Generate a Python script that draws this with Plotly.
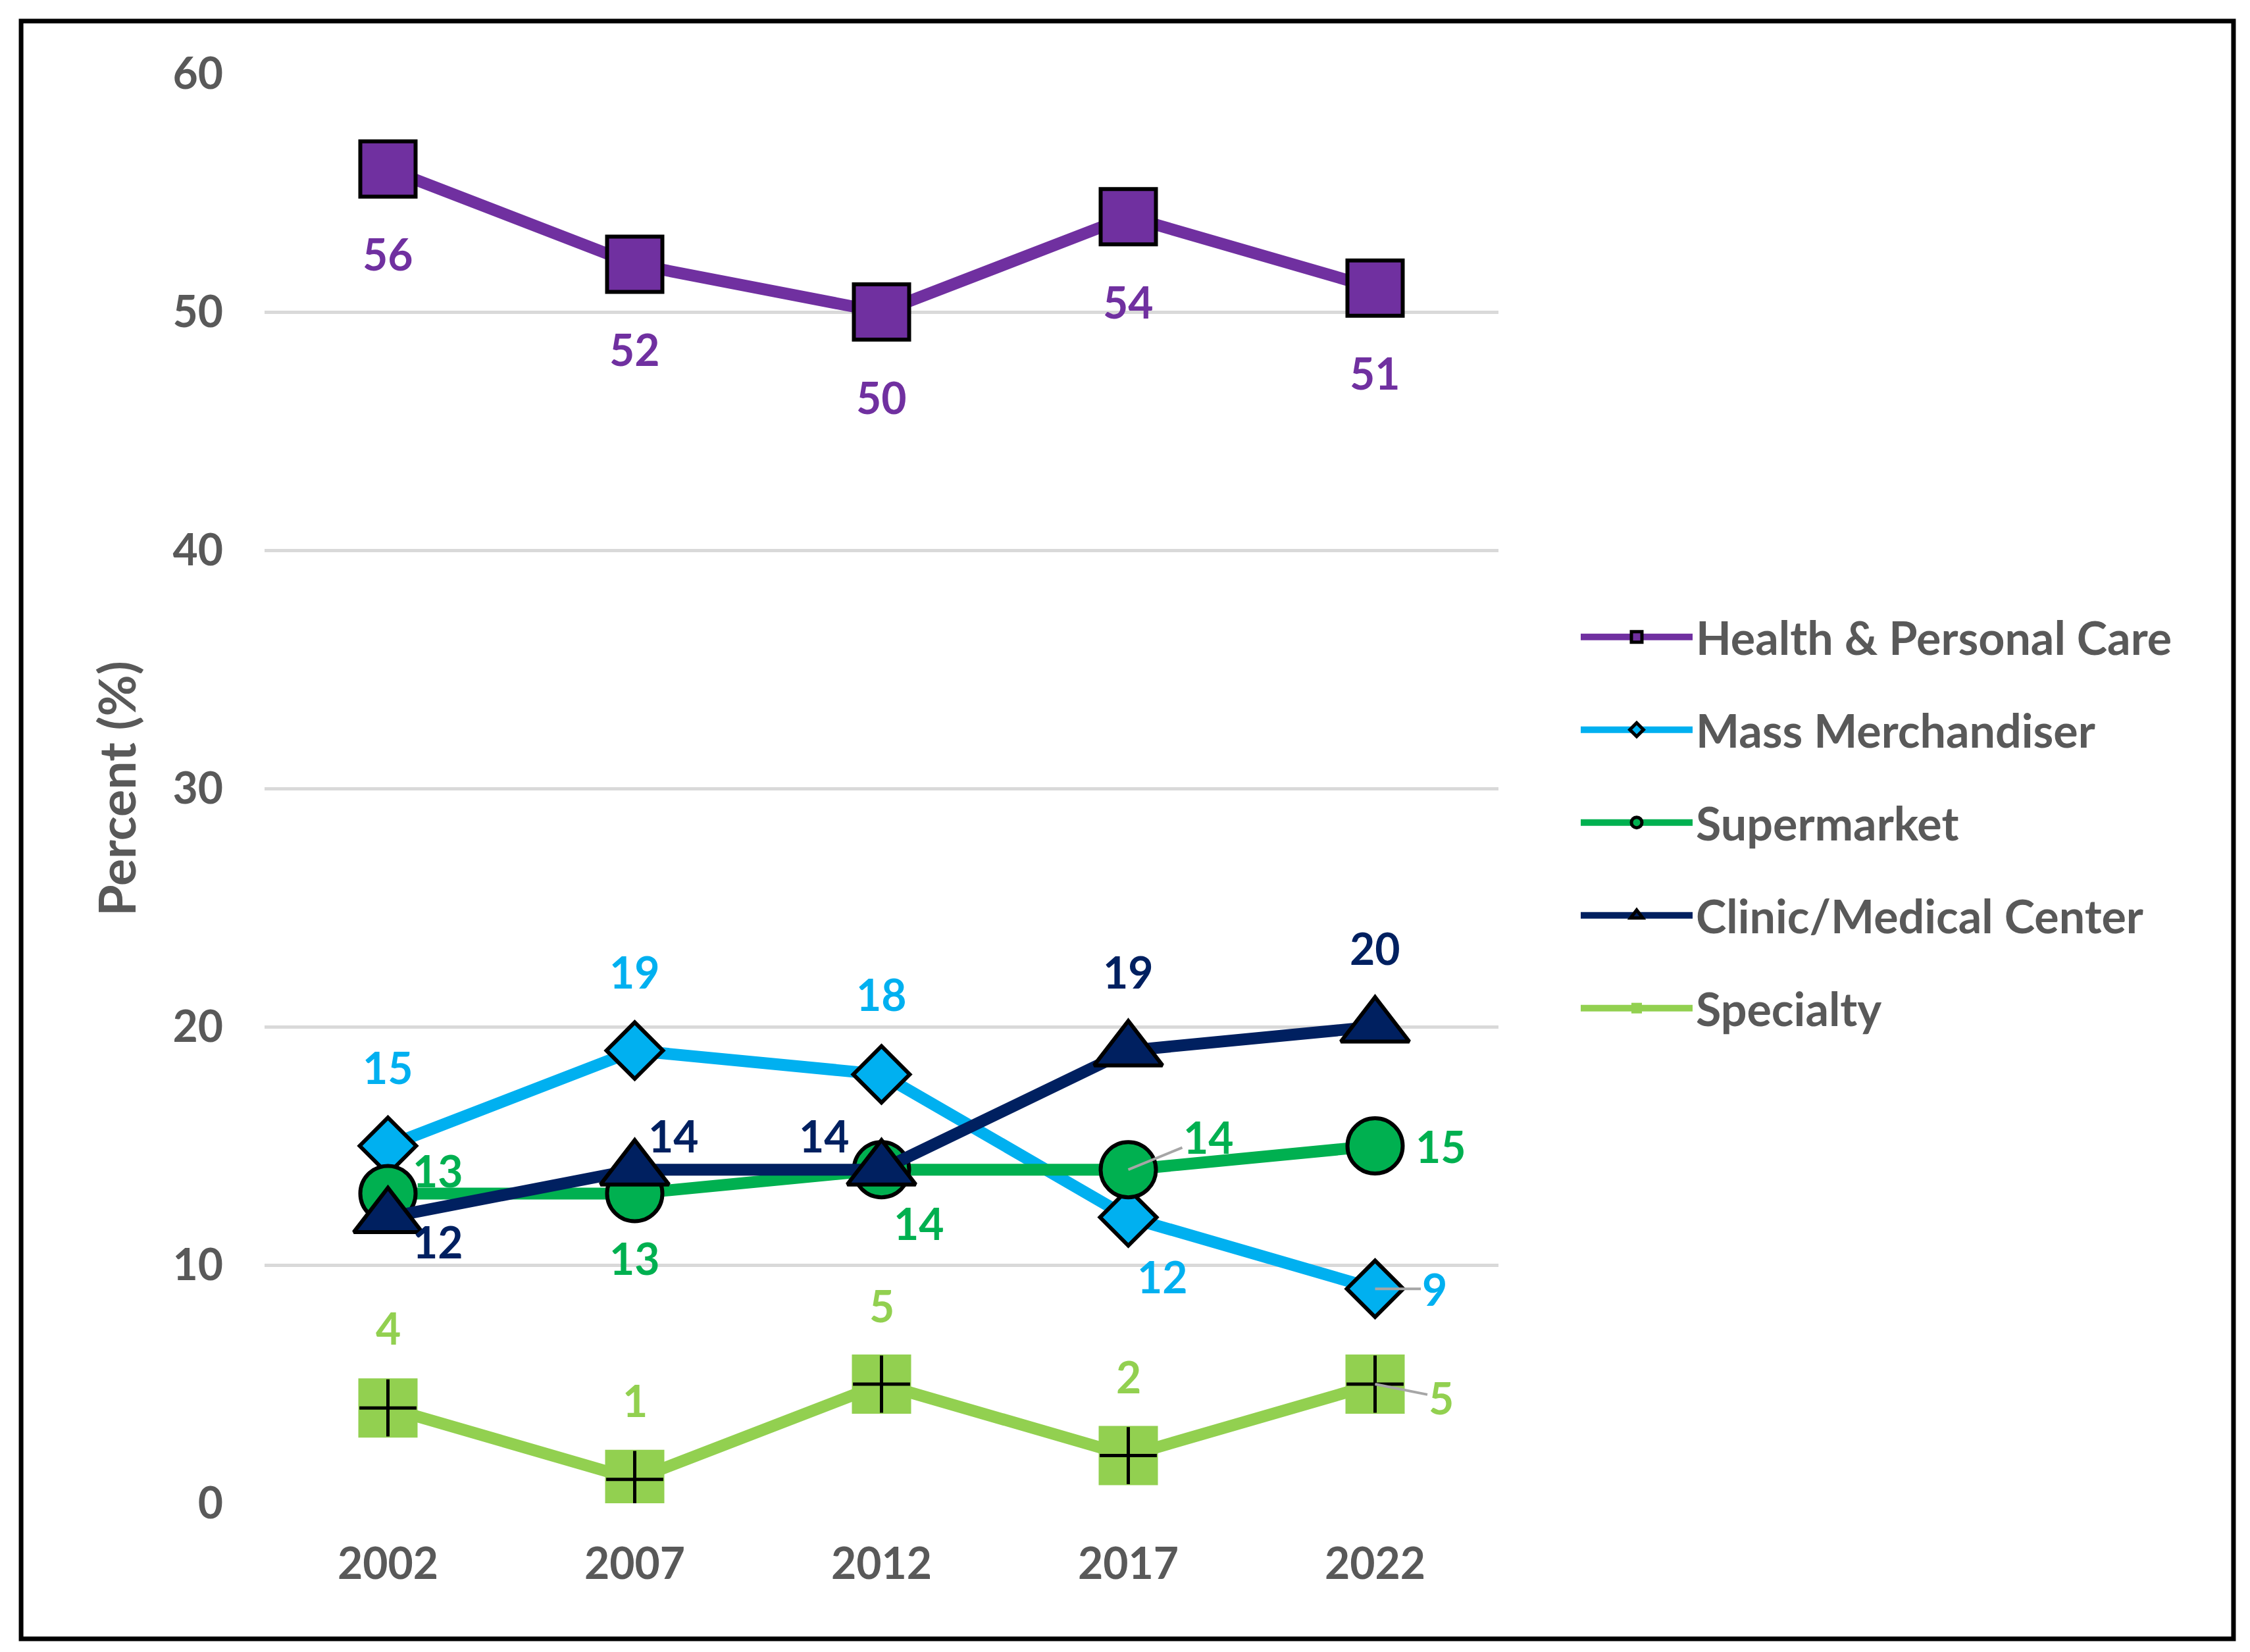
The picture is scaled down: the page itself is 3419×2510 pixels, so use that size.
import plotly.graph_objects as go

years = ["2002", "2007", "2012", "2017", "2022"]
health = [56, 52, 50, 54, 51]
mass = [15, 19, 18, 12, 9]
supermarket = [13, 13, 14, 14, 15]
clinic = [12, 14, 14, 19, 20]
specialty = [4, 1, 5, 2, 5]
y_ticks = [0, 10, 20, 30, 40, 50, 60]

names = ["Health & Personal Care", "Mass Merchandiser", "Supermarket",
         "Clinic/Medical Center", "Specialty"]
colors = ["#7030A0", "#00B0F0", "#00B050", "#002060", "#92D050"]

FONT = "Lato"
GRAY = "#595959"

fig = go.Figure()

def add_series(vals, name, color, symbol, size, line_w=6, line_col="black", legend=True):
    fig.add_trace(go.Scatter(
        x=years, y=vals, name=name, mode="lines+markers",
        line=dict(color=color, width=18),
        marker=dict(symbol=symbol, size=size, color=color,
                    line=dict(color=line_col, width=line_w)),
        legendgroup=name, showlegend=legend,
    ))

add_series(health, names[0], colors[0], "square", 84)
add_series(mass, names[1], colors[1], "diamond", 66)
add_series(supermarket, names[2], colors[2], "circle", 84)
add_series(clinic, names[3], colors[3], "triangle-up", 90)
add_series(specialty, names[4], colors[4], "square", 90, line_w=0, line_col=colors[4])
fig.add_trace(go.Scatter(
    x=years, y=specialty, mode="markers", showlegend=False, legendgroup=names[4],
    marker=dict(symbol="cross-thin", size=62, color="black",
                line=dict(color="black", width=5)),
    hoverinfo="skip",
))

# data label offsets (pixels: dx right, dy up) per series/point
offsets = {
    0: [(0, -129), (0, -129), (0, -129), (0, -129), (0, -129)],
    1: [(0, 120), (0, 120), (0, 122), (52, -90), (90, 0)],
    2: [(76, 35), (0, -98), (57, -81), (122, 50), (100, 0)],
    3: [(76, -37), (59, 52), (-87, 52), (0, 120), (0, 120)],
    4: [(0, 122), (0, 120), (0, 120), (0, 120), (100, -20)],
}
leaders = {(1, 4), (2, 3), (4, 4)}
series = [health, mass, supermarket, clinic, specialty]

for si, vals in enumerate(series):
    for pi, v in enumerate(vals):
        dx, dy = offsets[si][pi]
        font = dict(family=FONT, size=66, color=colors[si], weight="bold")
        if (si, pi) in leaders:
            fig.add_annotation(xref="x", yref="y", x=pi, y=v, text=str(v),
                               showarrow=True, axref="pixel", ayref="pixel",
                               ax=dx, ay=-dy, arrowhead=0, arrowwidth=4,
                               arrowcolor="#A6A6A6", font=font, standoff=0)
        else:
            fig.add_annotation(xref="x", yref="y", x=pi, y=v, text=str(v),
                               showarrow=False, xshift=dx, yshift=dy, font=font)

# outer border
fig.add_shape(type="rect", xref="paper", yref="paper",
              x0=-0.1973, x1=1.5957, y0=-0.0948, y1=1.0368,
              line=dict(color="black", width=7), fillcolor="rgba(0,0,0,0)")

fig.update_layout(
    width=3419, height=2510,
    margin=dict(l=394, r=1150, t=104, b=234),
    paper_bgcolor="white", plot_bgcolor="white",
    font=dict(family=FONT, color=GRAY, size=66, weight="bold"),
    legend=dict(x=1.064, xanchor="left", y=0.630, yanchor="top",
                font=dict(family=FONT, size=70, color=GRAY, weight="bold"),
                itemwidth=170, tracegroupgap=47, traceorder="grouped",
                bgcolor="rgba(0,0,0,0)"),
    xaxis=dict(type="category", categoryorder="array", categoryarray=years,
               range=[-0.5, 4.5], showgrid=False, showline=False, zeroline=False,
               ticks="", ticklabelstandoff=48,
               tickfont=dict(family=FONT, size=66, color=GRAY, weight="bold")),
    yaxis=dict(range=[0, 60], tickvals=y_ticks, showgrid=True, gridcolor="#D9D9D9",
               gridwidth=5, zeroline=False, showline=False, ticks="",
               ticklabelstandoff=62,
               tickfont=dict(family=FONT, size=66, color=GRAY, weight="bold"),
               title=dict(text="Percent (%)", standoff=30,
                          font=dict(family=FONT, size=77, color=GRAY, weight="bold"))),
)

fig.write_html("out.html")
